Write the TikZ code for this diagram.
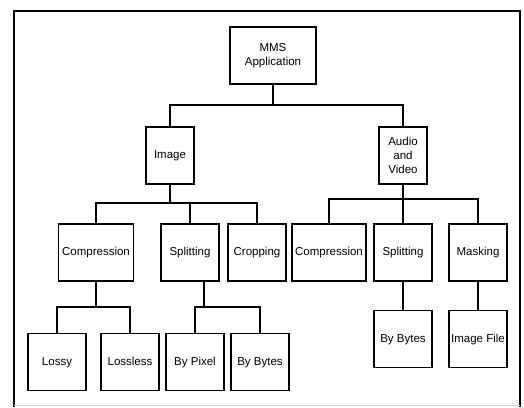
\documentclass[tikz,border=0pt]{standalone}
\usepackage{fontspec}
\setmainfont{Liberation Sans}

\tikzset{
  box/.style={draw, line width=1.5pt, inner sep=0pt, minimum width=58pt,
    minimum height=57pt, align=center, font=\fontsize{11.5}{14}\selectfont},
  leaf/.style={box, text height=1.6ex, text depth=.3ex},
  link/.style={line width=1.5pt}
}

\begin{document}
\begin{tikzpicture}[x=1pt, y=-1pt]

  \useasboundingbox (0,0) rectangle (524,407);
  \draw[line width=2.4pt] (14,407) -- (14,11) -- (520,11) -- (520,407);
  \draw[gray!30, line width=0.8pt] (14,405) -- (520,405);

  \node[box, minimum width=86pt] (mms) at (273,55.5) {MMS\\Application};

  \node[leaf, minimum width=48pt] (image) at (170,155.5) {Image};
  \node[box, minimum width=48pt] (av) at (403,155.5) {Audio\\and\\Video};

  \node[leaf, minimum width=75pt] (imcomp) at (96,252.5) {Compression};
  \node[leaf] (imsplit) at (190,252.5) {Splitting};
  \node[leaf] (crop) at (257,252.5) {Cropping};
  \node[leaf, minimum width=74pt] (avcomp) at (329,252.5) {Compression};
  \node[leaf] (avsplit) at (403,252.5) {Splitting};
  \node[leaf] (mask) at (478,252.5) {Masking};

  \node[leaf] (lossy) at (57,362) {Lossy};
  \node[leaf] (lossless) at (130,362) {Lossless};
  \node[leaf] (pixel) at (195,362) {By Pixel};
  \node[leaf] (imbytes) at (260,362) {By Bytes};
  \node[leaf] (avbytes) at (403,339) {By Bytes};
  \node[leaf] (imgfile) at (478,339) {Image File};

  \coordinate (b0) at (273,105);
  \draw[link] (mms) -- (b0);
  \draw[link] (image.north) |- (b0) -| (av.north);

  \coordinate (b1) at (170,203);
  \draw[link] (image) -- (b1);
  \draw[link] (imcomp.north) |- (b1) -| (crop.north);
  \draw[link] (imsplit.north) -- (imsplit.north |- b1);

  \coordinate (b2) at (403,199);
  \draw[link] (av) -- (b2);
  \draw[link] (avcomp.north) |- (b2) -| (mask.north);
  \draw[link] (avsplit) -- (b2);

  \coordinate (b3) at (96,307);
  \draw[link] (imcomp) -- (b3);
  \draw[link] (lossy.north) |- (b3) -| (lossless.north);

  \coordinate (b4) at (204,307);
  \draw[link] (imsplit.south -| b4) -- (b4);
  \draw[link] (pixel.north) |- (b4) -| (imbytes.north);

  \draw[link] (avsplit) -- (avbytes);
  \draw[link] (mask) -- (imgfile);

\end{tikzpicture}
\end{document}
